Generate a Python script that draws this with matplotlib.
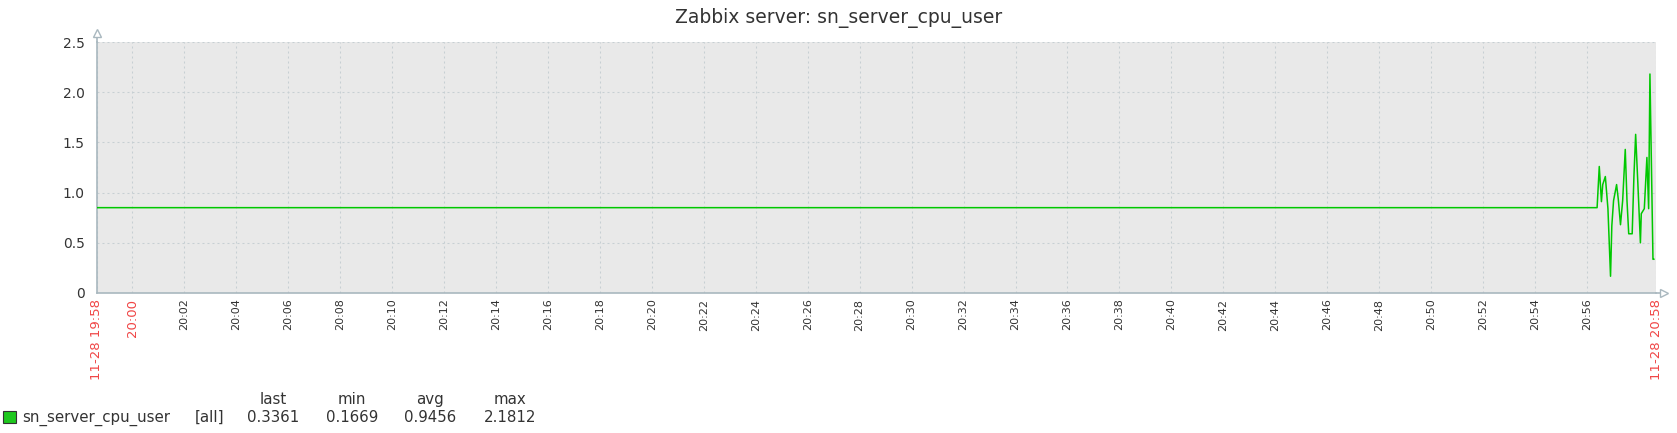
"""
Zabbix graph: sn_server_cpu_user over one hour.
"""

from datetime import datetime

import matplotlib
matplotlib.use("Agg")
import matplotlib.pyplot as plt
from matplotlib.patches import Rectangle

# ==========================================================
# Data
# ==========================================================

DAY = "2023-11-28"

time_start = "19:58:39"
time_end = "20:58:39"

sample_times = [
    "19:58:39", "20:56:23", "20:56:28", "20:56:33", "20:56:36", "20:56:42",
    "20:56:48", "20:56:54", "20:56:57", "20:57:01", "20:57:08", "20:57:12",
    "20:57:17", "20:57:22", "20:57:28", "20:57:32", "20:57:36", "20:57:44",
    "20:57:48", "20:57:52", "20:57:57", "20:58:03", "20:58:05", "20:58:12",
    "20:58:18", "20:58:22", "20:58:25", "20:58:32", "20:58:34",
]

sample_values = [
    0.85, 0.85, 1.26, 0.91, 1.08, 1.16,
    0.84, 0.1669, 0.67, 0.92, 1.08, 0.93,
    0.68, 0.92, 1.43, 0.92, 0.59, 0.59,
    1.16, 1.58, 1.10, 0.50, 0.79, 0.84,
    1.35, 0.84, 2.1812, 0.3361, 0.3361,
]

tick_labels = [f"20:{m:02d}" for m in range(0, 58, 2)]
edge_labels = ["11-28 19:58", "11-28 20:58"]

y_ticks = [0, 0.5, 1.0, 1.5, 2.0, 2.5]
y_tick_labels = ["0", "0.5", "1.0", "1.5", "2.0", "2.5"]

title = "Zabbix server: sn_server_cpu_user"
item_name = "sn_server_cpu_user"
item_scope = "[all]"
stat_names = ["last", "min", "avg", "max"]
stat_values = [0.3361, 0.1669, 0.9456, 2.1812]

# ==========================================================
# Style
# ==========================================================

TEXT = "#333333"
RED = "#f04545"
AXIS = "#a9b8bf"
GRID = "#c6cfd3"
GREEN = "#00c800"


def to_dt(t):
    fmt = "%Y-%m-%d %H:%M:%S" if t.count(":") == 2 else "%Y-%m-%d %H:%M"
    return datetime.strptime(f"{DAY} {t}", fmt)


t0 = to_dt(time_start)
t1 = to_dt(time_end)
xs = [to_dt(t) for t in sample_times]

# ==========================================================
# Figure
# ==========================================================

fig = plt.figure(figsize=(16.77, 4.33), dpi=100)

ax = fig.add_axes([97 / 1677, 140 / 433, 1559 / 1677, 251 / 433])
ax.set_facecolor("#e9e9e9")

ax.plot(xs, sample_values, color=GREEN, lw=1.1, zorder=3)

ax.set_xlim(t0, t1)
ax.set_ylim(0, 2.5)

# x ticks: edges + every 2 minutes
tick_pos = [t0] + [to_dt(t) for t in tick_labels] + [t1]
tick_txt = [edge_labels[0]] + tick_labels + [edge_labels[1]]
ax.set_xticks(tick_pos)
ax.set_xticklabels(tick_txt, rotation=90, va="top", ha="center")

for i, lab in enumerate(ax.get_xticklabels()):
    if i == 0 or i == len(tick_pos) - 1 or tick_pos[i].minute == 0:
        lab.set_color(RED)
        lab.set_fontsize(9.5)
    else:
        lab.set_color(TEXT)
        lab.set_fontsize(8)

ax.set_yticks(y_ticks)
ax.set_yticklabels(y_tick_labels, fontsize=10, color=TEXT)

ax.tick_params(axis="x", length=0, pad=4)
ax.tick_params(axis="y", length=0, pad=9)

ax.grid(True, color=GRID, ls=(0, (1.9, 2.9)), lw=0.75, zorder=1)
ax.set_axisbelow(True)

for side in ["top", "right"]:
    ax.spines[side].set_visible(False)
for side in ["left", "bottom"]:
    ax.spines[side].set_color(AXIS)
    ax.spines[side].set_linewidth(1.2)

# axis arrows
ax.plot([0, 0], [1, 1 + 6 / 251], transform=ax.transAxes,
        clip_on=False, color=AXIS, lw=1.2)
ax.plot([0], [1 + 9 / 251], transform=ax.transAxes, clip_on=False,
        marker="^", ms=6, mfc="white", mec=AXIS, mew=1.0)
ax.plot([1, 1 + 4 / 1559], [0, 0], transform=ax.transAxes,
        clip_on=False, color=AXIS, lw=1.2)
ax.plot([1 + 8 / 1559], [0], transform=ax.transAxes, clip_on=False,
        marker=">", ms=6, mfc="white", mec=AXIS, mew=1.0)

# ==========================================================
# Title
# ==========================================================

fig.text(0.5, 1 - 18 / 433, title, ha="center", va="center",
         fontsize=13.5, color=TEXT)

# ==========================================================
# Legend
# ==========================================================

fig.patches.append(Rectangle((3 / 1677, 1 - 423 / 433), 13 / 1677, 12 / 433,
                             transform=fig.transFigure, facecolor="#1ec81e",
                             edgecolor="#333333", lw=0.8))

row_y = 1 - 422 / 433
head_y = 1 - 404 / 433

fig.text(22 / 1677, row_y, item_name, ha="left", va="baseline",
         fontsize=10.8, color=TEXT)
fig.text(195 / 1677, row_y, item_scope, ha="left", va="baseline",
         fontsize=10.8, color=TEXT)

stat_x = [273, 352, 430, 510]
for name, val, x in zip(stat_names, stat_values, stat_x):
    fig.text(x / 1677, head_y, name, ha="center", va="baseline",
             fontsize=10.8, color=TEXT)
    fig.text(x / 1677, row_y, f"{val:.4f}", ha="center", va="baseline",
             fontsize=10.8, color=TEXT)

fig.savefig("out.png", dpi=100)
